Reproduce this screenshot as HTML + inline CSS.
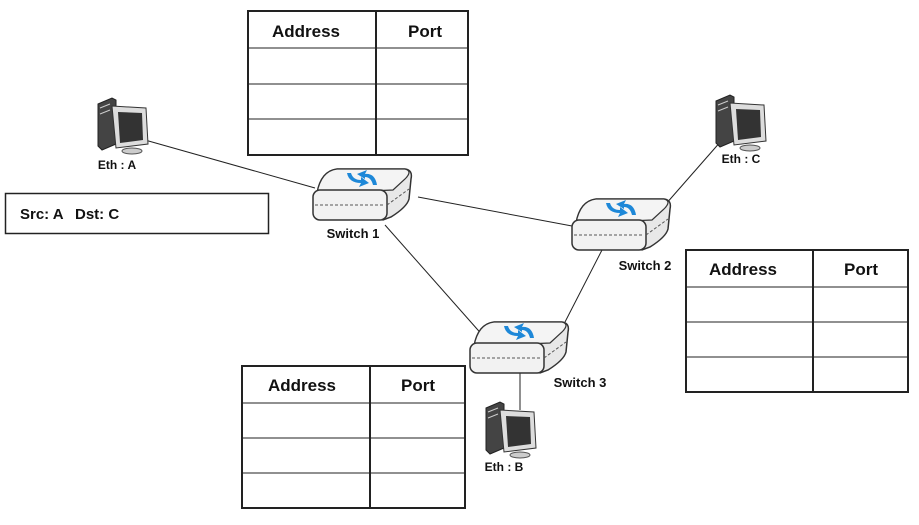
<!DOCTYPE html>
<html><head><style>body{margin:0;background:#fff}svg{display:block}text{font-family:"Liberation Sans",sans-serif;font-weight:bold;fill:#111}</style></head>
<body>
<svg width="919" height="525" viewBox="0 0 919 525">
<defs>
<g id="sw">
<path d="M4,28 Q8,6 24,4 L92,4 Q100,5 98,14 L96,34 Q94,42 78,52 L70,55 Z" fill="#e8e8e8" stroke="#333" stroke-width="1.5"/>
<path d="M4,28 Q8,6 24,4 L92,4 Q100,6 92,14 L80,25 Z" fill="#f4f4f4" stroke="#333" stroke-width="1.2"/>
<rect x="0" y="25" width="74" height="30" rx="7" fill="#f2f2f2" stroke="#333" stroke-width="1.5"/>
<line x1="2" y1="40" x2="72" y2="40" stroke="#555" stroke-dasharray="3,2"/>
<line x1="74" y1="40" x2="96" y2="24" stroke="#555" stroke-dasharray="3,2"/>
<path d="M34,8 Q36,18 48,18 L46,22 L56,18 L48,12 L48,15 Q40,15 38,8 Z" fill="#1e88d8"/>
<path d="M64,20 Q62,8 52,9 L54,5 L44,9 L52,14 L52,12 Q58,12 60,20 Z" fill="#1e88d8"/>
</g>
<g id="pc">
<path d="M8,6 L22,0 L26,2 L26,46 L12,52 L8,48 Z" fill="#444" stroke="#222"/>
<path d="M10,10 L20,6 M10,16 L20,12" stroke="#ccc"/>
<path d="M22,8 L56,10 L58,46 L26,50 Z" fill="#ddd" stroke="#333"/>
<path d="M28,14 L52,15 L53,42 L30,45 Z" fill="#333"/>
<ellipse cx="42" cy="53" rx="10" ry="3" fill="#ccc" stroke="#555"/>
</g>
</defs>
<g stroke="#222" stroke-width="1" fill="none">
<line x1="145" y1="140" x2="315" y2="188"/>
<line x1="418" y1="197" x2="572" y2="226"/>
<line x1="385" y1="225" x2="485" y2="338"/>
<line x1="602" y1="250" x2="565" y2="322"/>
<line x1="722" y1="140" x2="665" y2="205"/>
<line x1="520" y1="372" x2="520" y2="410"/>
</g>
<use href="#sw" x="313" y="165"/>
<use href="#sw" x="572" y="195"/>
<use href="#sw" x="470" y="318"/>
<use href="#pc" x="90" y="98"/>
<use href="#pc" x="708" y="95"/>
<use href="#pc" x="478" y="402"/>
<text x="117" y="169" font-size="12" text-anchor="middle">Eth : A</text>
<text x="741" y="163" font-size="12" text-anchor="middle">Eth : C</text>
<text x="504" y="471" font-size="12" text-anchor="middle">Eth : B</text>
<text x="353" y="238" font-size="13" text-anchor="middle">Switch 1</text>
<text x="645" y="270" font-size="13" text-anchor="middle">Switch 2</text>
<text x="580" y="387" font-size="13" text-anchor="middle">Switch 3</text>
<rect x="5.5" y="193.5" width="263" height="40" fill="#fff" stroke="#222" stroke-width="1.5"/>
<text x="20" y="219" font-size="15">Src: A</text>
<text x="75" y="219" font-size="15">Dst: C</text>
<g stroke="#222" stroke-width="2" fill="none">
<rect x="248" y="11" width="220" height="144"/>
<line x1="376" y1="11" x2="376" y2="155"/>
<line x1="248" y1="48" x2="468" y2="48" stroke-width="1"/>
<line x1="248" y1="84" x2="468" y2="84" stroke-width="1"/>
<line x1="248" y1="119" x2="468" y2="119" stroke-width="1"/>
<rect x="686" y="250" width="222" height="142"/>
<line x1="813" y1="250" x2="813" y2="392"/>
<line x1="686" y1="287" x2="908" y2="287" stroke-width="1"/>
<line x1="686" y1="322" x2="908" y2="322" stroke-width="1"/>
<line x1="686" y1="357" x2="908" y2="357" stroke-width="1"/>
<rect x="242" y="366" width="223" height="142"/>
<line x1="370" y1="366" x2="370" y2="508"/>
<line x1="242" y1="403" x2="465" y2="403" stroke-width="1"/>
<line x1="242" y1="438" x2="465" y2="438" stroke-width="1"/>
<line x1="242" y1="473" x2="465" y2="473" stroke-width="1"/>
</g>
<text x="306" y="37" font-size="17" text-anchor="middle">Address</text>
<text x="425" y="37" font-size="17" text-anchor="middle">Port</text>
<text x="743" y="275" font-size="17" text-anchor="middle">Address</text>
<text x="861" y="275" font-size="17" text-anchor="middle">Port</text>
<text x="302" y="391" font-size="17" text-anchor="middle">Address</text>
<text x="418" y="391" font-size="17" text-anchor="middle">Port</text>
</svg>
</body></html>
